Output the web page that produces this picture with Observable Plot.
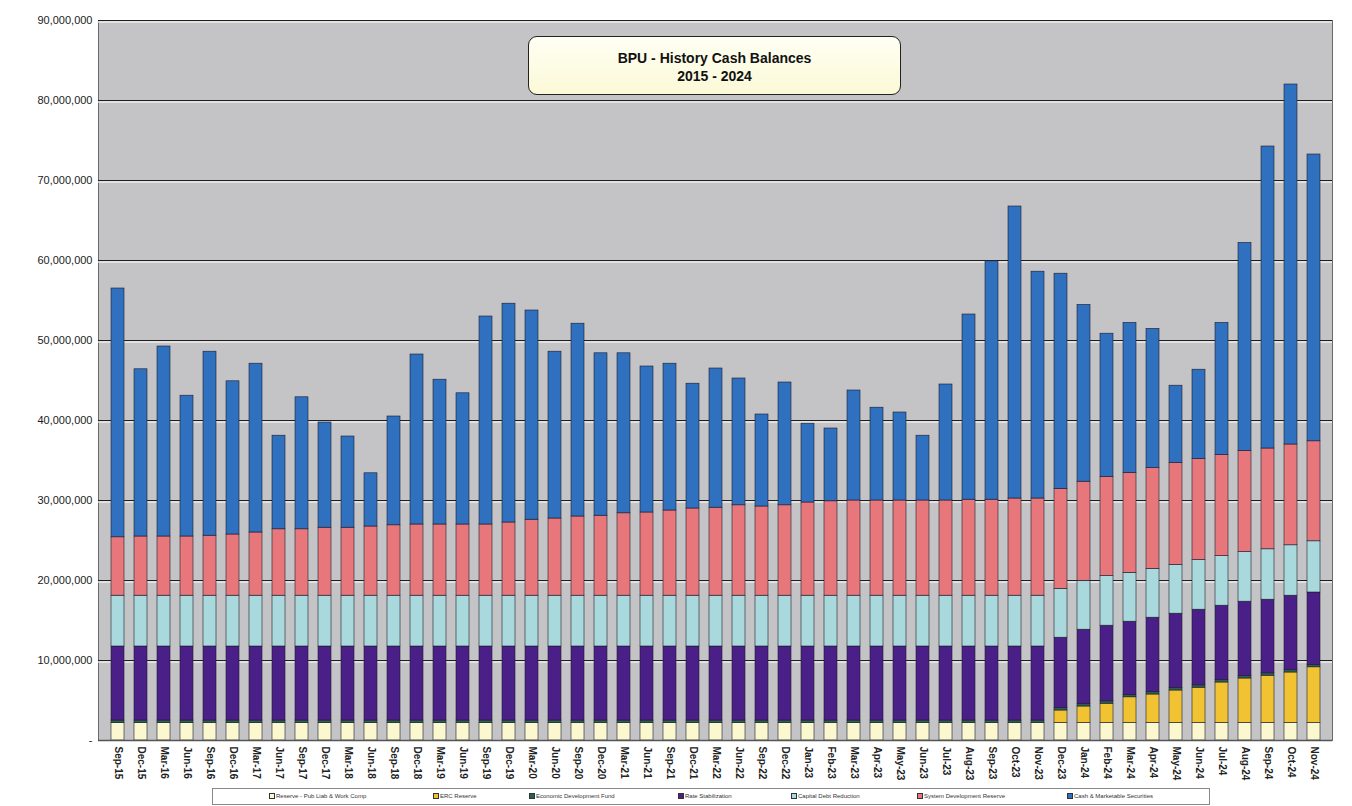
<!DOCTYPE html>
<html><head><meta charset="utf-8">
<script src="https://cdn.jsdelivr.net/npm/d3@7"></script>
<script src="https://cdn.jsdelivr.net/npm/@observablehq/plot@0.6"></script>
<style>
body{margin:0;background:#fff;font-family:"Liberation Sans",Arial,sans-serif;}
#wrap{position:relative;width:1352px;height:806px;overflow:hidden;}
#chart{position:absolute;left:0;top:0;}
#title{position:absolute;left:528px;top:36px;width:373px;height:59px;border:1.5px solid #222;border-radius:9px;background:linear-gradient(#fffff4,#fbf9d6);box-sizing:border-box;text-align:center;font-weight:bold;font-size:14px;line-height:18px;padding-top:12px;color:#111;}
#legend{position:absolute;left:212px;top:788px;width:998px;height:17px;border:1px solid #888;box-sizing:border-box;background:#fff;}
#legend span{position:absolute;top:4px;font-size:6px;color:#333;white-space:nowrap;}
#legend i{display:inline-block;width:4px;height:4px;margin-right:1px;vertical-align:middle;border:0.5px solid #333;}
</style>
</head><body>
<div id="wrap"><div id="chart"></div><div id="title">BPU - History Cash Balances<br>2015 - 2024</div><div id="legend"></div></div>
<script>
const months = ["Sep-15","Dec-15","Mar-16","Jun-16","Sep-16","Dec-16","Mar-17","Jun-17","Sep-17","Dec-17","Mar-18","Jun-18","Sep-18","Dec-18","Mar-19","Jun-19","Sep-19","Dec-19","Mar-20","Jun-20","Sep-20","Dec-20","Mar-21","Jun-21","Sep-21","Dec-21","Mar-22","Jun-22","Sep-22","Dec-22","Jan-23","Feb-23","Mar-23","Apr-23","May-23","Jun-23","Jul-23","Aug-23","Sep-23","Oct-23","Nov-23","Dec-23","Jan-24","Feb-24","Mar-24","Apr-24","May-24","Jun-24","Jul-24","Aug-24","Sep-24","Oct-24","Nov-24"];

const seriesNames = ["Reserve - Pub Liab & Work Comp","ERC Reserve","Economic Development Fund","Rate Stabilization","Capital Debt Reduction","System Development Reserve","Cash & Marketable Securities"];
const seriesColors = ["#fbf8cf","#f1c232","#2d5e52","#4a1f88","#a9d9dc","#e8777b","#2f70bf"];

// values in millions of dollars
const reserve = [2.2,2.2,2.2,2.2,2.2,2.2,2.2,2.2,2.2,2.2,2.2,2.2,2.2,2.2,2.2,2.2,2.2,2.2,2.2,2.2,2.2,2.2,2.2,2.2,2.2,2.2,2.2,2.2,2.2,2.2,2.2,2.2,2.2,2.2,2.2,2.2,2.2,2.2,2.2,2.2,2.2,2.2,2.2,2.2,2.2,2.2,2.2,2.2,2.2,2.2,2.2,2.2,2.2];
const ercReserve = [0,0,0,0,0,0,0,0,0,0,0,0,0,0,0,0,0,0,0,0,0,0,0,0,0,0,0,0,0,0,0,0,0,0,0,0,0,0,0,0,0,1.55,2.05,2.4,3.2,3.55,4.05,4.4,5.05,5.55,5.9,6.3,6.95];
const econDev = [0.3,0.3,0.3,0.3,0.3,0.3,0.3,0.3,0.3,0.3,0.3,0.3,0.3,0.3,0.3,0.3,0.3,0.3,0.3,0.3,0.3,0.3,0.3,0.3,0.3,0.3,0.3,0.3,0.3,0.3,0.3,0.3,0.3,0.3,0.3,0.3,0.3,0.3,0.3,0.3,0.3,0.3,0.3,0.3,0.3,0.3,0.3,0.3,0.3,0.3,0.3,0.3,0.3];
const rateStab = [9.25,9.25,9.25,9.25,9.25,9.25,9.25,9.25,9.25,9.25,9.25,9.25,9.25,9.25,9.25,9.25,9.25,9.25,9.25,9.25,9.25,9.25,9.25,9.25,9.25,9.25,9.25,9.25,9.25,9.25,9.25,9.25,9.25,9.25,9.25,9.25,9.25,9.25,9.25,9.25,9.25,8.8,9.3,9.45,9.15,9.3,9.3,9.45,9.3,9.3,9.2,9.3,9.05];
const capDebt = [6.35,6.35,6.35,6.35,6.35,6.35,6.35,6.35,6.35,6.35,6.35,6.35,6.35,6.35,6.35,6.35,6.35,6.35,6.35,6.35,6.35,6.35,6.35,6.35,6.35,6.35,6.35,6.35,6.35,6.35,6.35,6.35,6.35,6.35,6.35,6.35,6.35,6.35,6.35,6.35,6.35,6.1,6.1,6.2,6.1,6.1,6.1,6.2,6.2,6.2,6.3,6.3,6.4];
const sysDev = [7.3,7.4,7.4,7.4,7.5,7.65,7.9,8.3,8.3,8.5,8.5,8.65,8.8,8.9,8.9,8.9,8.9,9.15,9.5,9.65,9.9,10.0,10.3,10.4,10.65,10.9,11.0,11.3,11.15,11.3,11.65,11.8,11.9,11.9,11.9,11.9,11.9,12.0,12.0,12.15,12.15,12.5,12.4,12.4,12.5,12.6,12.75,12.65,12.65,12.65,12.6,12.6,12.5];
const cash = [31.1,20.9,23.75,17.6,23.0,19.15,21.1,11.7,16.5,13.15,11.4,6.65,13.6,21.25,18.1,16.4,26.0,27.35,26.15,20.85,24.1,20.3,20.0,18.25,18.35,15.6,17.4,15.85,11.5,15.35,9.85,9.1,13.75,11.6,11.0,8.1,14.5,23.15,29.8,36.5,28.35,26.9,22.1,17.9,18.75,17.4,9.65,11.15,16.5,26.0,37.75,45.0,35.85];

const yTicks = [0,10e6,20e6,30e6,40e6,50e6,60e6,70e6,80e6,90e6];

const seriesValues = [reserve, ercReserve, econDev, rateStab, capDebt, sysDev, cash];
const rows = [];
months.forEach((m, i) => {
  seriesNames.forEach((s, k) => {
    const v = seriesValues[k][i];
    if (v > 0) rows.push({month: m, series: s, value: v * 1e6});
  });
});

const fmt = d3.format(",");
const chart = Plot.plot({
  width: 1352,
  height: 786,
  marginLeft: 98,
  marginRight: 20,
  marginTop: 20,
  marginBottom: 46,
  style: {fontFamily: "'Liberation Sans', Arial, sans-serif", background: "transparent", color: "#222"},
  x: {domain: months, padding: 0.45, label: null},
  y: {domain: [0, 90e6], label: null},
  color: {domain: seriesNames, range: seriesColors},
  marks: [
    Plot.frame({fill: "#c4c4c6", stroke: "#6a6a6a"}),
    Plot.ruleY(yTicks.slice(1), {stroke: "#ffffff", strokeWidth: 1, dy: 1.5}),
    Plot.ruleY(yTicks.slice(1), {stroke: "#1e1e1e", strokeWidth: 1.2}),
    Plot.axisY({ticks: yTicks, tickFormat: d => d === 0 ? "-" : fmt(d), tickSize: 0, tickPadding: 6, fontSize: 11, label: null}),
    Plot.axisX({tickRotate: 90, tickSize: 0, tickPadding: 6, fontSize: 10, fontWeight: "bold", label: null}),
    Plot.barY(rows, {x: "month", y: "value", fill: "series", stroke: "#1b1b2e", strokeWidth: 0.6}),
    Plot.ruleY([0], {stroke: "#555", strokeWidth: 1.5})
  ]
});
document.getElementById("chart").appendChild(chart);

const legendX = [56, 220, 316, 465, 578, 704, 854];
const legend = document.getElementById("legend");
seriesNames.forEach((s, k) => {
  const sp = document.createElement("span");
  sp.style.left = legendX[k] + "px";
  sp.innerHTML = `<i style="background:${seriesColors[k]}"></i>` + s.replace(/&/g, "&amp;");
  legend.appendChild(sp);
});
</script>
</body></html>
